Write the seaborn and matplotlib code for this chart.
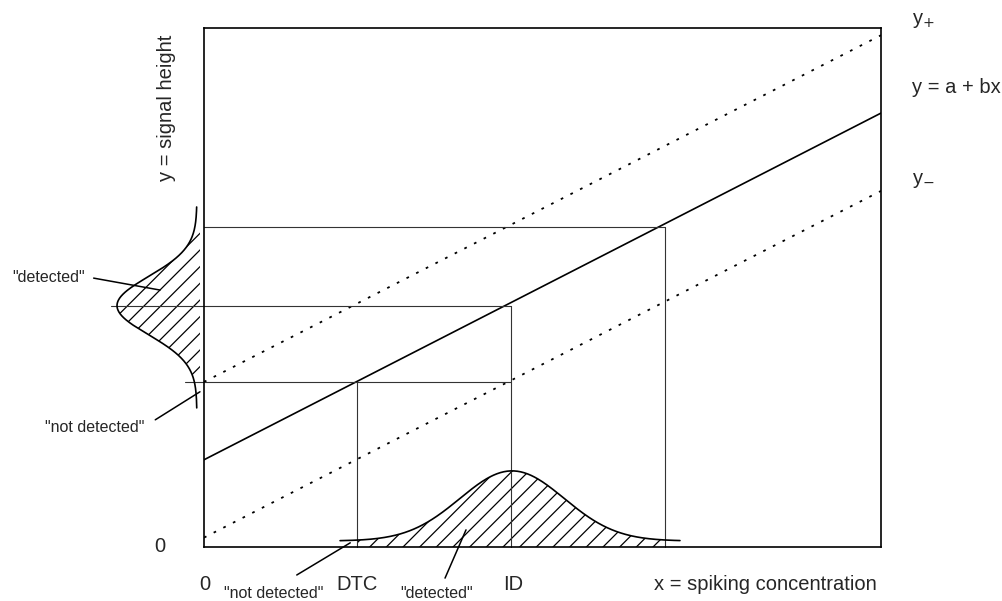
import numpy as np
import matplotlib.pyplot as plt
import seaborn as sns

# calibration line y = a + bx and the two band limits (axes run 0..100)
intercept = 16.8
slope = 0.668
band = 15.0
x_line = np.array([0.0, 100.0])

# levels
dtc_x, dtc_y = 22.6, 31.8
id_x, id_y = 45.4, 46.5
top_x, top_y = 68.1, 61.7

# signal distribution drawn sideways on the y axis
sig_mean, sig_sd, sig_peak, sig_floor = 46.5, 5.6, 11.8, 0.45
sig_lo, sig_hi, sig_base = 26.8, 65.5, -0.6

# concentration distribution drawn on the x axis
conc_mean, conc_sd, conc_peak, conc_floor = 45.5, 7.7, 13.5, 1.16
conc_lo, conc_hi = 20.1, 70.3

sns.set_style("white")
plt.rcParams["font.family"] = ["Liberation Sans", "DejaVu Sans"]
plt.rcParams["hatch.linewidth"] = 0.9

fig = plt.figure(figsize=(10.03, 6.01), dpi=100)
ax = fig.add_axes([0.2034, 0.0899, 0.675, 0.8636])
ax.set_xlim(0, 100)
ax.set_ylim(0, 100)
ax.set_xticks([])
ax.set_yticks([])
for s in ax.spines.values():
    s.set_color("black")
    s.set_linewidth(1.2)

# calibration line and band
sns.lineplot(x=x_line, y=intercept + slope * x_line, color="black", lw=1.2, ax=ax)
sns.lineplot(x=x_line, y=intercept + band + slope * x_line, color="black", lw=1.3,
             linestyle=(0, (1.5, 4.5)), ax=ax)
sns.lineplot(x=x_line, y=intercept - band + slope * x_line, color="black", lw=1.3,
             linestyle=(0, (1.5, 4.5)), ax=ax)

# guide lines
thin = dict(color="#333333", lw=0.8, clip_on=False)
ax.plot([-2.8, id_x], [dtc_y, dtc_y], **thin)
ax.plot([-13.8, id_x], [id_y, id_y], **thin)
ax.plot([0, top_x], [top_y, top_y], **thin)
ax.plot([dtc_x, dtc_x], [0, dtc_y], **thin)
ax.plot([id_x, id_x], [0, id_y], **thin)
ax.plot([top_x, top_x], [0, top_y], **thin)

# sideways bell on the y axis
ys = np.linspace(sig_lo, sig_hi, 300)
sig_w = sig_floor + sig_peak * np.exp(-0.5 * ((ys - sig_mean) / sig_sd) ** 2)
ax.plot(sig_base - sig_w, ys, color="black", lw=1.2, clip_on=False)
m = (ys >= dtc_y) & (ys <= top_y)
ax.fill_betweenx(ys[m], sig_base - sig_w[m], sig_base, facecolor="none",
                 edgecolor="black", lw=0, hatch="//", clip_on=False)

# bell on the x axis
xs = np.linspace(conc_lo, conc_hi, 300)
conc_h = conc_floor + conc_peak * np.exp(-0.5 * ((xs - conc_mean) / conc_sd) ** 2)
sns.lineplot(x=xs, y=conc_h, color="black", lw=1.2, ax=ax)
m = (xs >= dtc_x) & (xs <= top_x)
ax.fill_between(xs[m], 0, conc_h[m], facecolor="none", edgecolor="black",
                lw=0, hatch="//")

# pointers
ptr = dict(color="black", lw=1.1, clip_on=False)
ax.plot([-16.3, -6.5], [51.8, 49.5], **ptr)
ax.plot([-7.2, -0.6], [24.5, 29.9], **ptr)
ax.plot([13.7, 21.6], [-5.4, 0.8], **ptr)
ax.plot([35.6, 38.7], [-6.0, 3.3], **ptr)

big = 14.5
small = 11.5
ax.text(-5.5, 84.6, "y = signal height", rotation=90, ha="center", va="center", fontsize=big)
ax.text(-6.5, 0, "0", ha="center", va="center", fontsize=big)
ax.text(0.15, -7.3, "0", ha="center", va="center", fontsize=big)
ax.text(dtc_x, -7.3, "DTC", ha="center", va="center", fontsize=big)
ax.text(id_x + 0.2, -7.3, "ID", ha="center", va="center", fontsize=big)
ax.text(99.4, -7.3, "x = spiking concentration", ha="right", va="center", fontsize=big)
ax.text(104.6, 101.5, "y$_{+}$", ha="left", va="center", fontsize=big)
ax.text(104.6, 88.6, "y = a + bx", ha="left", va="center", fontsize=big)
ax.text(104.6, 70.7, "y$_{-}$", ha="left", va="center", fontsize=big)

ax.text(-17.6, 52.0, '"detected"', ha="right", va="center", fontsize=small)
ax.text(-16.1, 23.1, '"not detected"', ha="center", va="center", fontsize=small)
ax.text(10.3, -8.9, '"not detected"', ha="center", va="center", fontsize=small)
ax.text(34.4, -8.9, '"detected"', ha="center", va="center", fontsize=small)

fig.savefig("out.png", dpi=100)
